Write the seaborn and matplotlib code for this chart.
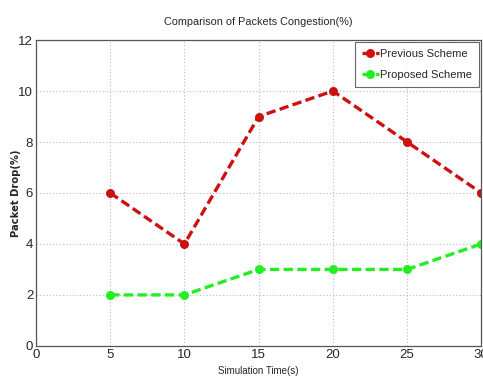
import matplotlib
matplotlib.use("Agg")
import matplotlib.pyplot as plt
import seaborn as sns
import pandas as pd
from matplotlib.lines import Line2D

time_s = [5, 10, 15, 20, 25, 30]
previous = [6, 4, 9, 10, 8, 6]
proposed = [2, 2, 3, 3, 3, 4]
series_names = ["Previous Scheme", "Proposed Scheme"]
x_ticks = [0, 5, 10, 15, 20, 25, 30]
y_ticks = [0, 2, 4, 6, 8, 10, 12]

df = pd.DataFrame({
    "t": time_s * 2,
    "v": previous + proposed,
    "s": [series_names[0]] * len(time_s) + [series_names[1]] * len(time_s),
})

sns.set_style("white")
plt.rcParams["font.family"] = ["Liberation Sans", "DejaVu Sans"]

fig = plt.figure(figsize=(4.83, 3.78), dpi=100)
ax = fig.add_axes([0.0745, 0.085, 0.922, 0.809])

palette = {series_names[0]: "#cc1111", series_names[1]: "#22ee22"}
sns.lineplot(data=df, x="t", y="v", hue="s", palette=palette, ax=ax,
             marker="o", markersize=6.5, linewidth=2.4, markeredgewidth=0,
             legend=False)
for ln in ax.lines:
    ln.set_dashes([2.8, 1.3])

ax.set_xlim(0, 30)
ax.set_ylim(0, 12)
ax.set_xticks(x_ticks)
ax.set_yticks(y_ticks)
ax.tick_params(direction="in", length=3, labelsize=9.5, pad=2, color="#555555")
ax.grid(True, linestyle=(0, (1, 2)), color="#bbbbbb", linewidth=0.8)
for sp in ax.spines.values():
    sp.set_color("#555555")
    sp.set_linewidth(0.9)

ax.set_title("Comparison of Packets Congestion(%)", fontsize=7.8, pad=11)
ax.set_xlabel("Simulation Time(s)", fontsize=7, labelpad=4)
ax.set_ylabel("Packet Drop(%)", fontsize=7.2, fontweight="bold",
              family=["DejaVu Sans"])
ax.yaxis.set_label_coords(-0.034, 0.5)

handles = [Line2D([], [], color=palette[n], marker="o", markersize=6.5,
                  linewidth=2.4, dashes=[2.8, 1.3], markeredgewidth=0)
           for n in series_names]
leg = ax.legend(handles, series_names, loc="upper right", fontsize=8,
                frameon=True, fancybox=False, handlelength=1.5,
                handletextpad=0.15, borderpad=0.6, labelspacing=1.0,
                borderaxespad=0.2)
leg.get_frame().set_edgecolor("#444444")
leg.get_frame().set_linewidth(0.8)

fig.savefig("out.png", dpi=100)
